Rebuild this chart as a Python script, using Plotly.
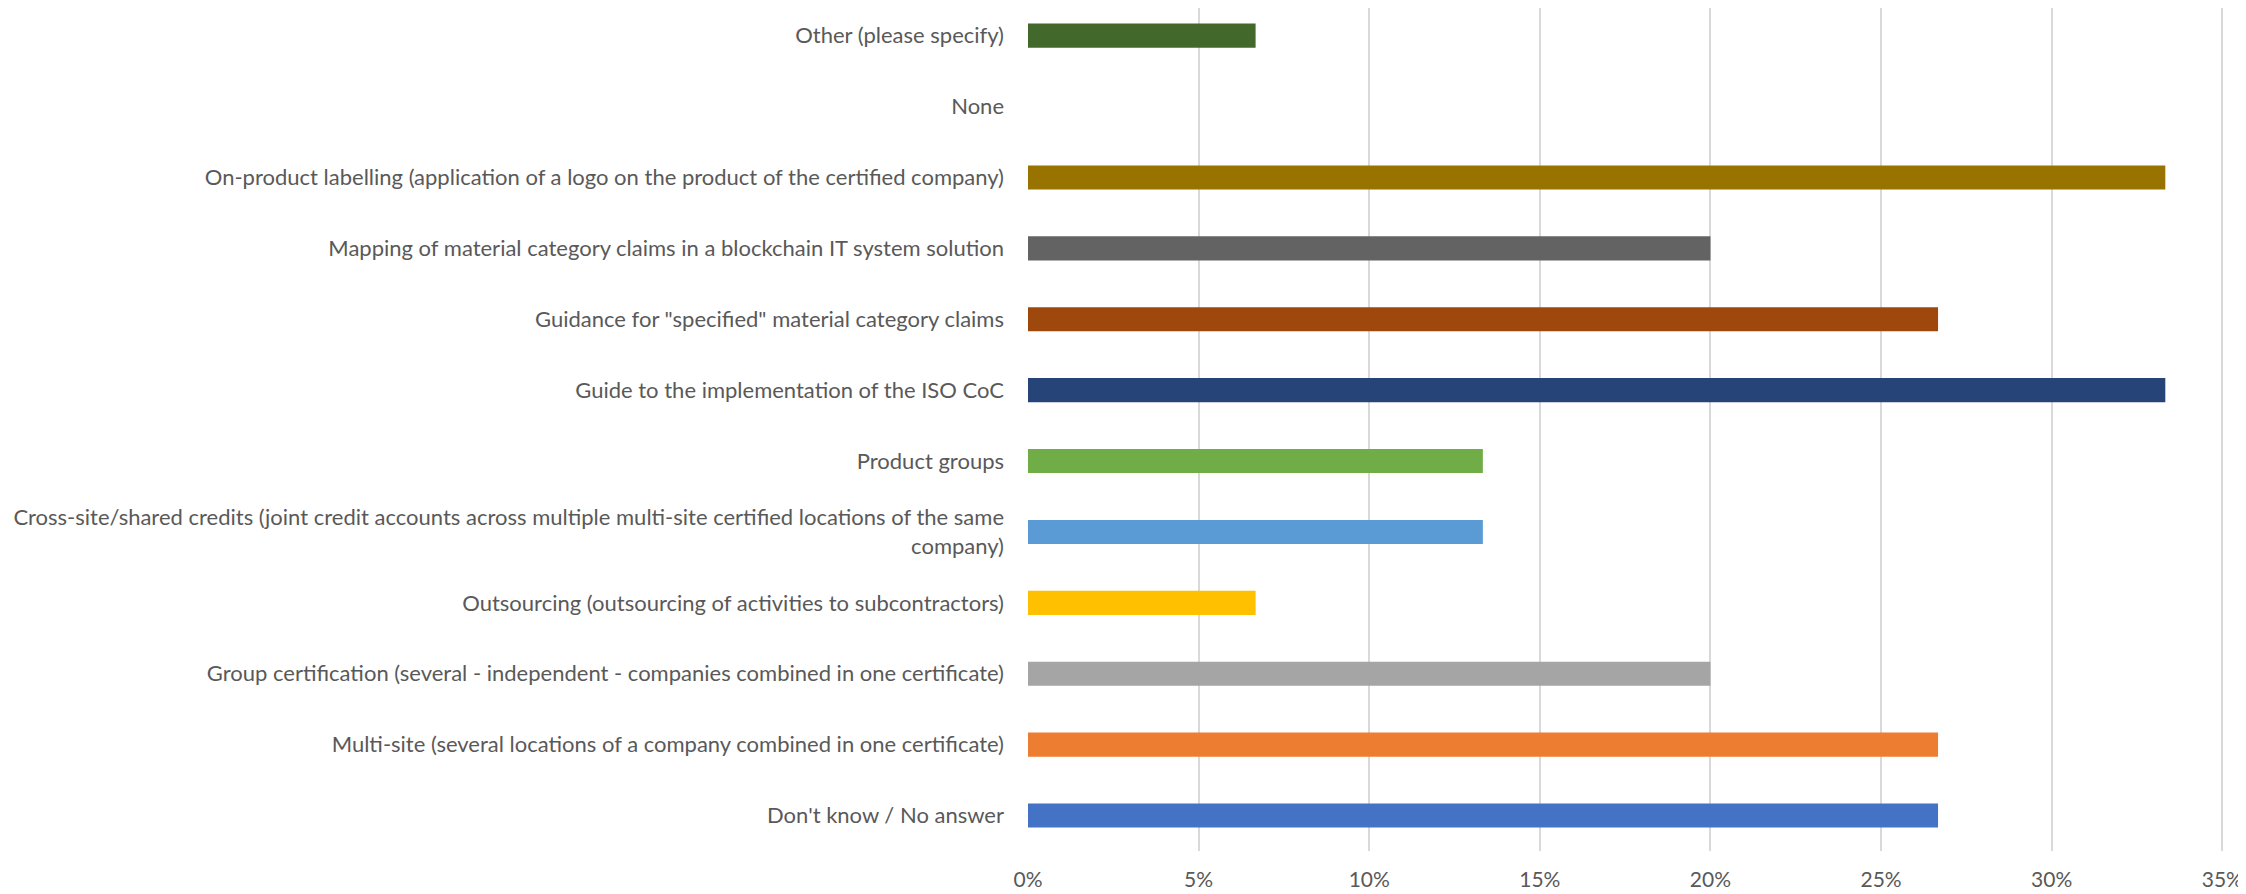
import plotly.graph_objects as go

categories = [
    "Don't know / No answer",
    "Multi-site (several locations of a company combined in one certificate)",
    "Group certification (several - independent - companies combined in one certificate)",
    "Outsourcing (outsourcing of activities to subcontractors)",
    "Cross-site/shared credits (joint credit accounts across multiple multi-site certified locations of the same<br>company)",
    "Product groups",
    "Guide to the implementation of the ISO CoC",
    "Guidance for \"specified\" material category claims",
    "Mapping of material category claims in a blockchain IT system solution",
    "On-product labelling (application of a logo on the product of the certified company)",
    "None",
    "Other (please specify)",
]
values = [26.67, 26.67, 20.0, 6.67, 13.33, 13.33, 33.33, 26.67, 20.0, 33.33, 0.0, 6.67]
colors = ["#4472C4", "#ED7D31", "#A5A5A5", "#FFC000", "#5B9BD5", "#70AD47",
          "#264478", "#9E480E", "#636363", "#997300", "#255E91", "#43682B"]
x_ticks = [0, 5, 10, 15, 20, 25, 30, 35]
x_tick_labels = ["0%", "5%", "10%", "15%", "20%", "25%", "30%", "35%"]

fig = go.Figure(go.Bar(
    x=values, y=categories, orientation="h",
    marker=dict(color=colors, line=dict(width=0)),
    width=0.34,
))

fig.update_layout(
    width=2238, height=886,
    margin=dict(l=1020, r=22, t=0, b=43),
    plot_bgcolor="white", paper_bgcolor="white",
    font=dict(family="Lato", size=22, color="#595959"),
    showlegend=False,
)
fig.update_xaxes(
    range=[0, 35.05], tickvals=x_ticks, ticktext=x_tick_labels,
    showgrid=True, gridcolor="#D9D9D9", gridwidth=1.5,
    zeroline=False, showline=False, ticks="", ticklabelstandoff=14,
    tickfont=dict(size=21, color="#595959"),
)
fig.update_yaxes(
    categoryorder="array", categoryarray=categories,
    range=[-0.5, 11.39],
    showgrid=False, zeroline=False, showline=False, ticks="",
    ticklabelstandoff=23,
    tickfont=dict(size=22, color="#595959"),
)

fig.write_html("out.html")
